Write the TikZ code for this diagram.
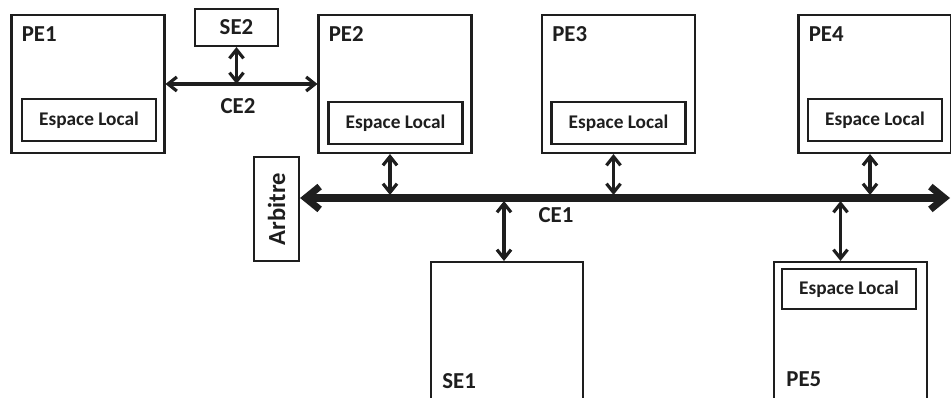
\documentclass[tikz,border=0pt]{standalone}
\usepackage{fontspec}
\setmainfont{Carlito}
\usetikzlibrary{positioning,arrows.meta,calc}
\definecolor{archInk}{RGB}{30,30,30}
\tikzset{
  unitbox/.style={draw=archInk,line width=1.2pt,minimum width=3.06cm,minimum height=2.76cm,inner sep=0pt},
  localbox/.style={draw=archInk,line width=1.2pt,minimum width=2.68cm,minimum height=0.84cm,inner sep=0pt,
    text=archInk,font=\fontsize{11}{13}\selectfont\bfseries},
  tag/.style={text=archInk,font=\fontsize{13}{15}\selectfont\bfseries,inner sep=0pt},
  link/.style={draw=archInk,line width=1.8pt,{Straight Barb[length=5pt,width=8pt]}-{Straight Barb[length=5pt,width=8pt]}},
  busline/.style={draw=archInk,line width=4pt,{Straight Barb[length=8pt,width=13pt]}-{Straight Barb[length=8pt,width=13pt]}}
}

\begin{document}
\begin{tikzpicture}[x=0.02cm,y=-0.02cm]
    \clip (0,0) rectangle (951,398);
    % processing elements on top
    \foreach \name/\x/\txt in {pe1/88/PE1,pe2/395/PE2,pe3/618.5/PE3,pe4/875/PE4}
      {\node[unitbox] (\name) at (\x,84) {};
       \node[tag,anchor=base west] (\name tag) at ($(\name.north west)+(11,28)$) {\txt};}
    \foreach \name/\x/\y in {pe1/89/120,pe2/395.5/123,pe3/618.5/123,pe4/875/120}
      {\node[localbox] (\name loc) at (\x,\y) {Espace Local};}
    % lower elements
    \node[unitbox,minimum width=3.04cm,minimum height=4cm] (se1) at (507,362) {};
    \node[tag,anchor=base west] (se1tag) at (442,389) {SE1};
    \node[unitbox,minimum height=4cm] (pe5) at (850.5,362) {};
    \node[localbox,minimum height=0.8cm] (pe5loc) at (849,289) {Espace Local};
    \node[tag,anchor=base west] (pe5tag) at (786,387) {PE5};
    % CE2 side
    \node[unitbox,minimum width=1.66cm,minimum height=0.74cm,tag,inner sep=0pt] (se2) at (236.5,27.5) {SE2};
    \draw[link] (pe1.east) -- (pe2.west);
    \coordinate (ce2tap) at (se2.south |- pe1.east);
    \draw[link] (se2.south) -- (ce2tap);
    \node[tag] (ce2) at (238,106) {CE2};
    % CE1 bus
    \node[draw=archInk,line width=1.2pt,minimum width=0.9cm,minimum height=2.08cm,inner sep=0pt,tag,
      font=\fontsize{14}{16}\selectfont\bfseries] (arb) at (276.5,209) {\rotatebox{90}{Arbitre}};
    \coordinate (busend) at (950,198);
    \coordinate (busstart) at (arb.east |- busend);
    \draw[busline] (busstart) -- (busend);
    \node[tag] (ce1) at (556,215) {CE1};
    \foreach \name in {pe2,pe3,pe4}
      {\coordinate (\name tap) at ($(\name.south |- busend)+(-5,-3)$);
       \draw[link] ($(\name.south)+(-5,0)$) -- (\name tap);}
    \coordinate (se1tap) at ($(se1.north |- busend)+(-3,3)$);
    \draw[link] (se1tap) -- ($(se1.north)+(-3,0)$);
    \coordinate (pe5tap) at ($(pe5.north |- busend)+(-10,3)$);
    \draw[link] (pe5tap) -- ($(pe5.north)+(-10,0)$);
  \end{tikzpicture}
\end{document}
